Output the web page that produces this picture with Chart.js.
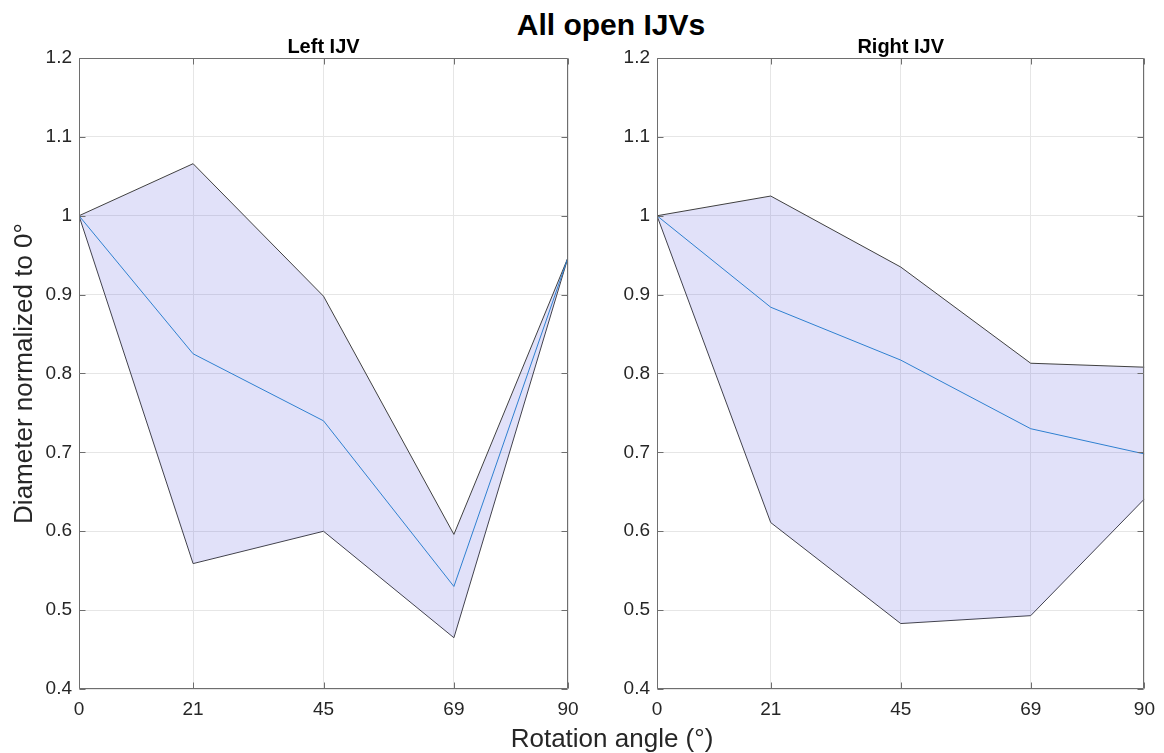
<!DOCTYPE html>
<html>
<head>
<meta charset="utf-8">
<script src="https://cdn.jsdelivr.net/npm/chart.js@4.4.1/dist/chart.umd.min.js"></script>
<style>
	body {
		margin: 0;
		background: #fff;
		width: 1164px;
		height: 753px;
		position: relative;
		overflow: hidden;
		font-family: 'Liberation Sans', Arial, sans-serif;
		color: #000;
	}
	#title {
		position: absolute;
		left: 0;
		top: 9px;
		width: 1222px;
		text-align: center;
		font-size: 30px;
		line-height: 32px;
		font-weight: bold;
	}
	#xlabel {
		position: absolute;
		left: 0;
		top: 724px;
		width: 1224px;
		text-align: center;
		font-size: 26px;
		line-height: 28px;
		color: #262626;
	}
	.panel {
		position: absolute;
		top: 0;
		height: 730px;
	}
</style>
</head>
<body>
<div id="title">All open IJVs</div>
<div class="panel" style="left:0;width:600px"><canvas id="left" width="600" height="730"></canvas></div>
<div class="panel" style="left:600px;width:564px"><canvas id="right" width="564" height="730"></canvas></div>
<div id="xlabel">Rotation angle (°)</div>
<script>
const angles = [0, 21, 45, 69, 90];
const yTicks = [0.4, 0.5, 0.6, 0.7, 0.8, 0.9, 1.0, 1.1, 1.2];

// left IJV
const leftUpper = [1.0, 1.066, 0.898, 0.596, 0.947];
const leftMean = [1.0, 0.825, 0.740, 0.530, 0.947];
const leftLower = [1.0, 0.559, 0.600, 0.465, 0.947];

// right IJV
const rightUpper = [1.0, 1.025, 0.935, 0.813, 0.808];
const rightMean = [1.0, 0.884, 0.817, 0.730, 0.698];
const rightLower = [1.0, 0.611, 0.483, 0.493, 0.641];

const toPoints = (values) => values.map((y, i) => ({ x: angles[i], y }));

// subplot title + matlab style box with inward ticks
const panelPlugin = {
	id: 'panel',
	afterDatasetsDraw(chart, args, opts) {
		const { ctx, chartArea } = chart;
		const l = Math.round(chartArea.left) + 0.5;
		const r = Math.round(chartArea.right) - 0.5;
		const t = Math.round(chartArea.top) + 0.5;
		const b = Math.round(chartArea.bottom) - 0.5;
		const xs = chart.scales.x;
		const ys = chart.scales.y;

		ctx.save();
		ctx.strokeStyle = '#6e6e6e';
		ctx.lineWidth = 1;
		ctx.beginPath();
		ctx.rect(l, t, r - l, b - t);
		angles.forEach((v) => {
			const px = Math.round(xs.getPixelForValue(v)) + 0.5;
			ctx.moveTo(px, b);
			ctx.lineTo(px, b - 6);
			ctx.moveTo(px, t);
			ctx.lineTo(px, t + 6);
		});
		yTicks.forEach((v) => {
			const py = Math.round(ys.getPixelForValue(v)) + 0.5;
			ctx.moveTo(l, py);
			ctx.lineTo(l + 6, py);
			ctx.moveTo(r, py);
			ctx.lineTo(r - 6, py);
		});
		ctx.stroke();

		ctx.fillStyle = '#000';
		ctx.font = 'bold 20px "Liberation Sans", Arial, sans-serif';
		ctx.textAlign = 'center';
		ctx.textBaseline = 'alphabetic';
		ctx.fillText(opts.text, (chartArea.left + chartArea.right) / 2, chartArea.top - 5);
		ctx.restore();
	},
};

function makeChart(id, name, upper, mean, lower, showYTitle, yWidth, padRight) {
	const ctx = document.getElementById(id).getContext('2d');

	return new Chart(ctx, {
		type: 'line',
		data: {
			datasets: [
				{
					data: toPoints(mean),
					borderColor: '#2f80d0',
					borderWidth: 1,
					pointRadius: 0,
					fill: false,
				},
				{
					data: toPoints(upper),
					borderColor: '#404040',
					borderWidth: 1,
					pointRadius: 0,
					fill: 2,
					backgroundColor: 'rgba(90, 90, 220, 0.18)',
				},
				{
					data: toPoints(lower),
					borderColor: '#404040',
					borderWidth: 1,
					pointRadius: 0,
					fill: false,
				},
			],
		},
		options: {
			responsive: false,
			animation: false,
			layout: { padding: { top: 58, right: padRight, left: 0, bottom: 0 } },
			plugins: {
				legend: { display: false },
				tooltip: { enabled: false },
				panel: { text: name },
			},
			scales: {
				x: {
					type: 'linear',
					min: 0,
					max: 90,
					afterBuildTicks: (scale) => {
						scale.ticks = angles.map((v) => ({ value: v }));
					},
					afterFit: (scale) => {
						scale.height = 41;
					},
					grid: { color: '#e6e6e6', drawTicks: false },
					border: { display: false },
					ticks: {
						color: '#262626',
						padding: 9,
						maxRotation: 0,
						font: { size: 19, family: '"Liberation Sans", Arial, sans-serif' },
					},
				},
				y: {
					min: 0.4,
					max: 1.2,
					afterBuildTicks: (scale) => {
						scale.ticks = yTicks.map((v) => ({ value: v }));
					},
					afterFit: (scale) => {
						scale.width = yWidth;
					},
					grid: { color: '#e6e6e6', drawTicks: false },
					border: { display: false },
					ticks: {
						color: '#262626',
						padding: 7,
						callback: (v) => String(Math.round(v * 10) / 10),
						font: { size: 19, family: '"Liberation Sans", Arial, sans-serif' },
					},
					title: {
						display: showYTitle,
						text: 'Diameter normalized to 0°',
						color: '#262626',
						padding: { top: 9, bottom: 0 },
						font: { size: 26, family: '"Liberation Sans", Arial, sans-serif' },
					},
				},
			},
		},
		plugins: [panelPlugin],
	});
}

makeChart('left', 'Left IJV', leftUpper, leftMean, leftLower, true, 79, 32);
makeChart('right', 'Right IJV', rightUpper, rightMean, rightLower, false, 57, 18);
</script>
</body>
</html>
